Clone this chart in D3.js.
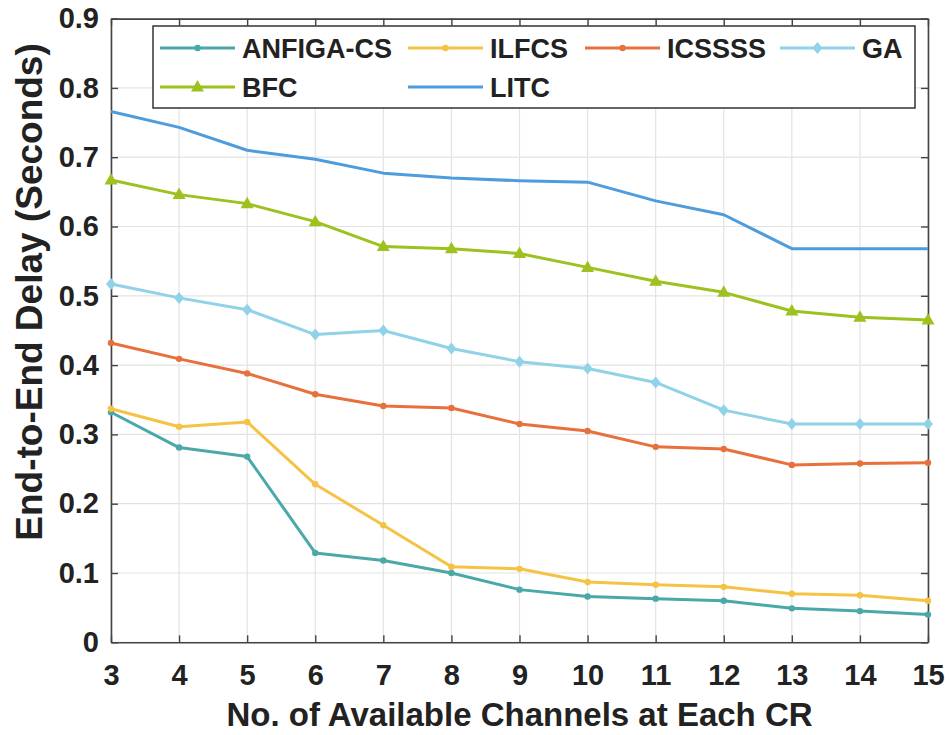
<html>
<head>
<meta charset="utf-8">
<style>
  body { margin: 0; background: #fff; }
  text { font-family: "Liberation Sans", Arial, sans-serif; font-weight: bold; fill: #222; }
</style>
</head>
<body>
<script src="https://cdn.jsdelivr.net/npm/d3@7"></script>
<script>
// channels at each CR
var channels = [3, 4, 5, 6, 7, 8, 9, 10, 11, 12, 13, 14, 15];

var anfiga = [0.332, 0.281, 0.268, 0.129, 0.118, 0.100, 0.076, 0.066, 0.063, 0.060, 0.049, 0.045, 0.040];
var ilfcs  = [0.337, 0.311, 0.318, 0.228, 0.169, 0.109, 0.106, 0.087, 0.083, 0.080, 0.070, 0.068, 0.060];
var icssss = [0.432, 0.409, 0.388, 0.358, 0.341, 0.338, 0.315, 0.305, 0.282, 0.279, 0.256, 0.258, 0.259];
var ga     = [0.517, 0.497, 0.480, 0.444, 0.450, 0.424, 0.405, 0.395, 0.375, 0.335, 0.315, 0.315, 0.315];
var bfc    = [0.667, 0.646, 0.633, 0.607, 0.571, 0.568, 0.561, 0.541, 0.521, 0.505, 0.478, 0.469, 0.465];
var litc   = [0.766, 0.743, 0.710, 0.697, 0.677, 0.670, 0.666, 0.664, 0.637, 0.617, 0.568, 0.568, 0.568];

var names  = ["ANFIGA-CS", "ILFCS", "ICSSSS", "GA", "BFC", "LITC"];
var colors = ["#4ba8a8", "#f6c243", "#e8703c", "#90d2e8", "#9dc11f", "#4f9cdd"];
var marks  = ["dot", "dot", "dot", "diamond", "triangle", "none"];

var yTicks = [0, 0.1, 0.2, 0.3, 0.4, 0.5, 0.6, 0.7, 0.8, 0.9];

var series = [anfiga, ilfcs, icssss, ga, bfc, litc];

var W = 950, H = 735;
var pL = 111, pR = 928, pT = 18.6, pB = 642.3;

var svg = d3.select("body").append("svg")
            .attr("width", W)
            .attr("height", H);

var x = d3.scaleLinear().domain([3, 15]).range([pL, pR]);
var y = d3.scaleLinear().domain([0, 0.9]).range([pB, pT]);

// grid
svg.append("g").selectAll("line").data(channels).enter().append("line")
   .attr("x1", function(d) { return x(d); })
   .attr("x2", function(d) { return x(d); })
   .attr("y1", pT).attr("y2", pB)
   .attr("stroke", "#e3e3e3").attr("stroke-width", 1.2);
svg.append("g").selectAll("line").data(yTicks).enter().append("line")
   .attr("y1", function(d) { return y(d); })
   .attr("y2", function(d) { return y(d); })
   .attr("x1", pL).attr("x2", pR)
   .attr("stroke", "#e3e3e3").attr("stroke-width", 1.2);

// axes with inward ticks
var xAxis = svg.append("g").attr("transform", "translate(0," + pB + ")")
   .call(d3.axisBottom(x).tickValues(channels).tickSizeInner(-7).tickSizeOuter(0).tickPadding(22).tickFormat(d3.format("d")));
var xTop = svg.append("g").attr("transform", "translate(0," + pT + ")")
   .call(d3.axisTop(x).tickValues(channels).tickSizeInner(-7).tickSizeOuter(0).tickFormat(""));
var yAxis = svg.append("g").attr("transform", "translate(" + pL + ",0)")
   .call(d3.axisLeft(y).tickValues(yTicks).tickSizeInner(-7).tickSizeOuter(0).tickPadding(12)
   .tickFormat(function(d) { return d === 0 ? "0" : d3.format(".1f")(d); }));
var yRight = svg.append("g").attr("transform", "translate(" + pR + ",0)")
   .call(d3.axisRight(y).tickValues(yTicks).tickSizeInner(-7).tickSizeOuter(0).tickFormat(""));

[xAxis, xTop, yAxis, yRight].forEach(function(g) {
  g.selectAll("path").attr("stroke", "#444").attr("stroke-width", 1.6);
  g.selectAll("line").attr("stroke", "#444").attr("stroke-width", 1.4);
  g.selectAll("text").attr("font-size", 29).attr("fill", "#222")
   .attr("font-family", "Liberation Sans, Arial, sans-serif").attr("font-weight", "bold");
});
xAxis.selectAll("text").attr("dy", "0.72em");

// lines
var line = d3.line()
   .x(function(d, i) { return x(channels[i]); })
   .y(function(d) { return y(d); });

function drawMarker(g, kind, cx, cy, color) {
  if (kind === "dot") {
    g.append("circle").attr("cx", cx).attr("cy", cy).attr("r", 3.2).attr("fill", color);
  } else if (kind === "diamond") {
    g.append("path").attr("transform", "translate(" + cx + "," + cy + ")")
     .attr("d", "M0,-6L5,0L0,6L-5,0Z").attr("fill", color);
  } else if (kind === "triangle") {
    g.append("path").attr("transform", "translate(" + cx + "," + cy + ")")
     .attr("d", "M0,-7L6.5,4.5L-6.5,4.5Z").attr("fill", color);
  }
}

series.forEach(function(s, k) {
  svg.append("path").datum(s)
     .attr("d", line)
     .attr("fill", "none")
     .attr("stroke", colors[k])
     .attr("stroke-width", 3)
     .attr("stroke-linejoin", "round");
  var g = svg.append("g");
  s.forEach(function(v, i) {
    drawMarker(g, marks[k], x(channels[i]), y(v), colors[k]);
  });
});

// legend
var lg = svg.append("g");
lg.append("rect").attr("x", 153).attr("y", 26).attr("width", 762).attr("height", 82)
  .attr("fill", "#fff").attr("stroke", "#333").attr("stroke-width", 1.5);
var legPos = [[160, 48], [408, 48], [585, 48], [780, 48], [160, 87], [408, 87]];
names.forEach(function(n, k) {
  var p = legPos[k];
  lg.append("line").attr("x1", p[0]).attr("x2", p[0] + 75)
    .attr("y1", p[1]).attr("y2", p[1])
    .attr("stroke", colors[k]).attr("stroke-width", 3);
  drawMarker(lg, marks[k], p[0] + 37.5, p[1], colors[k]);
  lg.append("text").attr("x", p[0] + 82).attr("y", p[1]).attr("dy", "0.36em")
    .attr("font-size", 27).text(n);
});

// axis titles
svg.append("text").attr("x", (pL + pR) / 2).attr("y", 726)
   .attr("text-anchor", "middle").attr("font-size", 33)
   .text("No. of Available Channels at Each CR");
svg.append("text").attr("transform", "translate(42,292) rotate(-90)")
   .attr("text-anchor", "middle").attr("font-size", 37)
   .text("End-to-End Delay (Seconds)");
</script>
</body>
</html>
